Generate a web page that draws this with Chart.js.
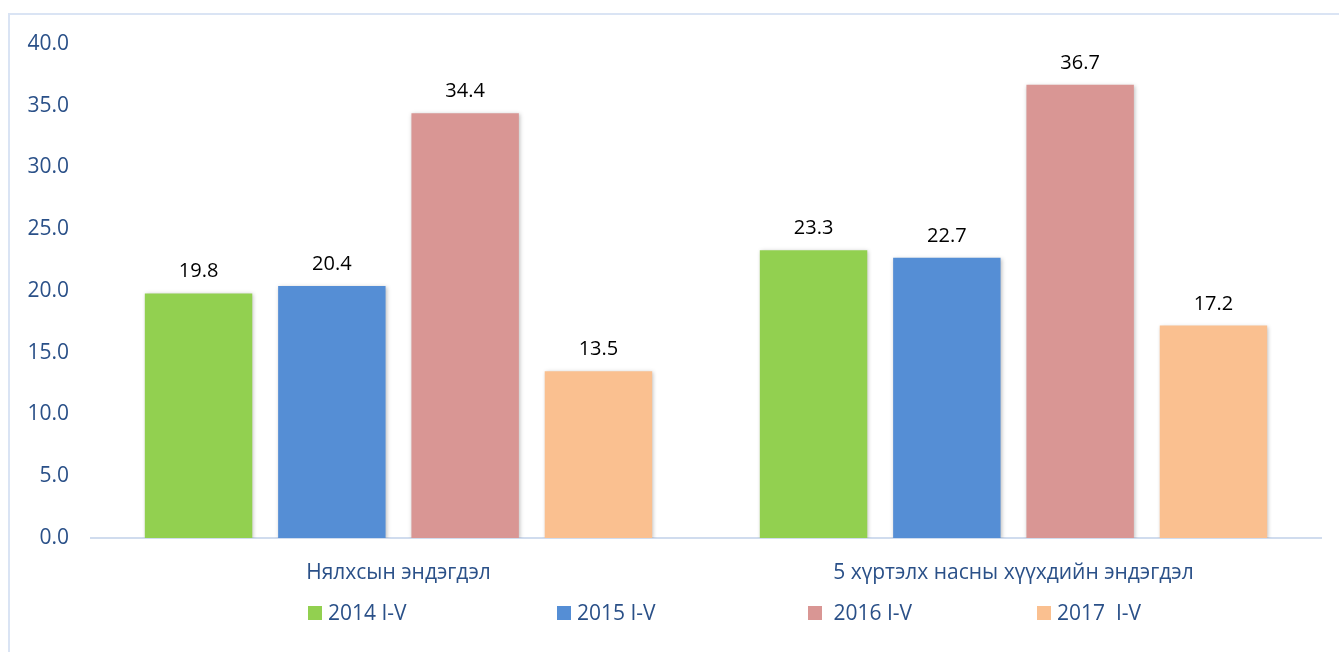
<!DOCTYPE html>
<html>
<head>
<meta charset="utf-8">
<script src="https://cdn.jsdelivr.net/npm/chart.js@4.4.0/dist/chart.umd.min.js"></script>
<style>
  html, body { margin: 0; padding: 0; background: #fff; overflow: hidden; }
  #wrap { position: relative; width: 1339px; height: 652px; }
  #frame { position: absolute; left: 8px; top: 13px; width: 1400px; height: 700px;
           border: 2px solid #dae4f4; pointer-events: none; }
</style>
</head>
<body>
<div id="wrap">
  <canvas id="deathChart" width="1339" height="652"></canvas>
  <div id="frame"></div>
</div>
<script>
// data
const categories = ['Нялхсын эндэгдэл', '5 хүртэлх насны хүүхдийн эндэгдэл'];
const seriesNames = ['2014 I-V', '2015 I-V', ' 2016 I-V', '2017  I-V'];
const values2014 = [19.8, 23.3];
const values2015 = [20.4, 22.7];
const values2016 = [34.4, 36.7];
const values2017 = [13.5, 17.2];
const yTicks = [0, 5, 10, 15, 20, 25, 30, 35, 40];

const colors = ['#92d050', '#558ed5', '#d99694', '#fac090'];
const textBlue = '#2a5088';
const font = '"Open Sans", "Noto Sans", sans-serif';

// bar shadows (soft, like the office chart)
const shadowPlugin = {
    id: 'barShadow',
    beforeDatasetsDraw(chart) {
        const ctx = chart.ctx;
        ctx.save();
        ctx.shadowColor = 'rgba(0,0,0,0.25)';
        ctx.shadowBlur = 4;
        ctx.shadowOffsetX = 1;
        ctx.shadowOffsetY = 1;
    },
    afterDatasetsDraw(chart) {
        chart.ctx.restore();
    }
};

// value labels above the bars
const valueLabels = {
    id: 'valueLabels',
    afterDatasetsDraw(chart) {
        const ctx = chart.ctx;
        ctx.save();
        ctx.font = '20px ' + font;
        ctx.fillStyle = '#000';
        ctx.textAlign = 'center';
        ctx.textBaseline = 'alphabetic';
        chart.data.datasets.forEach((ds, i) => {
            chart.getDatasetMeta(i).data.forEach((bar, j) => {
                ctx.fillText(ds.data[j].toFixed(1), bar.x, bar.y - 16);
            });
        });
        ctx.restore();
    }
};

// legend row with wide, uneven spacing like the original (offsets from plot centre)
const legendOffsets = [-398, -149, 102, 331];
const wideLegend = {
    id: 'wideLegend',
    afterDraw(chart) {
        const ctx = chart.ctx;
        const area = chart.chartArea;
        const mid = (area.left + area.right) / 2;
        const y = area.bottom + 75;
        ctx.save();
        ctx.font = '21px ' + font;
        ctx.textBaseline = 'middle';
        ctx.textAlign = 'left';
        chart.data.datasets.forEach((ds, i) => {
            const x = mid + legendOffsets[i];
            ctx.fillStyle = ds.backgroundColor;
            ctx.fillRect(x, y - 7, 14, 14);
            ctx.fillStyle = textBlue;
            ctx.fillText(ds.label, x + 20, y + 1);
        });
        ctx.restore();
    }
};

const ctx = document.getElementById('deathChart').getContext('2d');
new Chart(ctx, {
    type: 'bar',
    data: {
        labels: categories,
        datasets: [
            { label: seriesNames[0], data: values2014, backgroundColor: colors[0] },
            { label: seriesNames[1], data: values2015, backgroundColor: colors[1] },
            { label: seriesNames[2], data: values2016, backgroundColor: colors[2] },
            { label: seriesNames[3], data: values2017, backgroundColor: colors[3] }
        ]
    },
    plugins: [shadowPlugin, valueLabels, wideLegend],
    options: {
        responsive: false,
        animation: false,
        categoryPercentage: 0.867,
        barPercentage: 0.806,
        layout: { padding: { left: 0, right: 18, top: 44, bottom: 59 } },
        scales: {
            x: {
                grid: { display: false, drawTicks: false },
                border: { display: true, color: '#d0dcee', width: 2 },
                ticks: { color: textBlue, font: { family: font, size: 21 }, padding: 22 },
                afterFit(scale) { scale.height = 55; }
            },
            y: {
                min: 0,
                max: 40,
                grid: { display: false, drawTicks: false },
                border: { display: false },
                afterBuildTicks(scale) { scale.ticks = yTicks.map(v => ({ value: v })); },
                ticks: {
                    color: textBlue,
                    font: { family: font, size: 21 },
                    padding: 22,
                    callback: v => v.toFixed(1)
                },
                afterFit(scale) { scale.width = 91; }
            }
        },
        plugins: {
            legend: { display: false },
            tooltip: { enabled: false }
        }
    }
});
</script>
</body>
</html>
